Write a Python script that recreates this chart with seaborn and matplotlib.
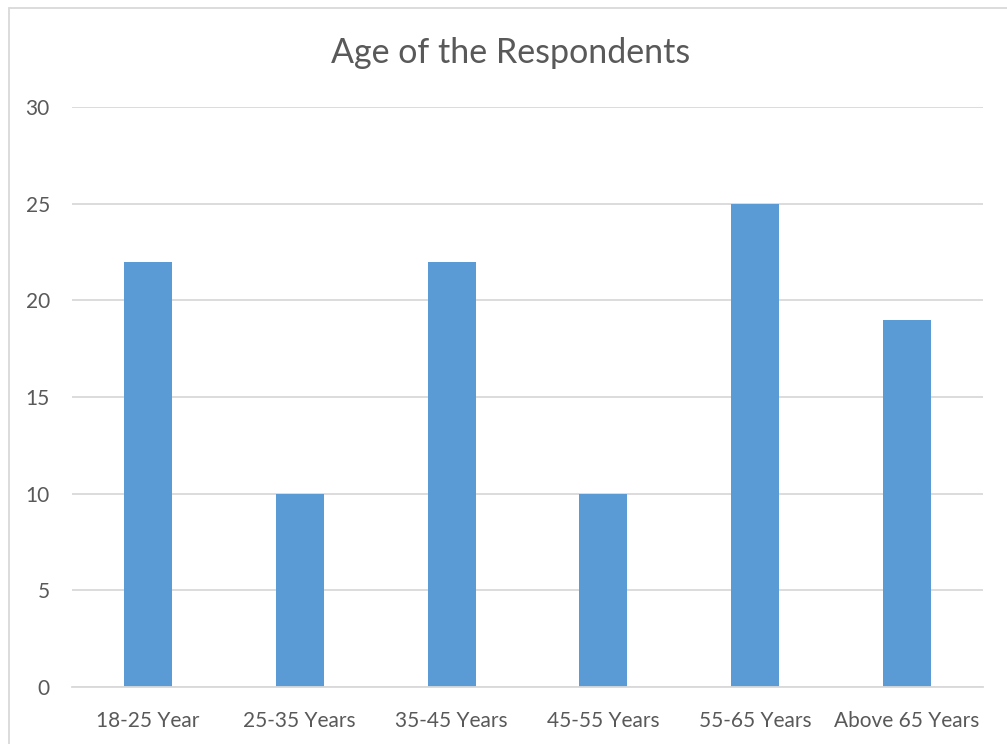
import matplotlib
matplotlib.use("Agg")
import matplotlib.pyplot as plt
import seaborn as sns
import pandas as pd
from matplotlib.lines import Line2D

categories = ["18-25 Year", "25-35 Years", "35-45 Years", "45-55 Years", "55-65 Years", "Above 65 Years"]
values = [22, 10, 22, 10, 25, 19]
yticks = [0, 5, 10, 15, 20, 25, 30]

sns.set_theme(style="white")
plt.rcParams['font.family'] = ['Lato', 'DejaVu Sans']

df = pd.DataFrame({"cat": categories, "val": values})

fig = plt.figure(figsize=(10.07, 7.44), dpi=100)
ax = fig.add_axes([72/1007, 1-687/744, 911/1007, 580/744])
sns.barplot(data=df, x="cat", y="val", color="#5B9BD5", width=0.316, ax=ax,
            saturation=1, linewidth=0)

ax.set_ylim(0, 30)
ax.set_xlim(-0.5, 5.5)
ax.set_yticks(yticks)
ax.set_yticklabels([str(t) for t in yticks])
ax.yaxis.grid(True, color="#D9D9D9", linewidth=1.3)
ax.set_axisbelow(True)
for s in ["top", "right", "left"]:
    ax.spines[s].set_visible(False)
ax.spines["bottom"].set_color("#D9D9D9")
ax.spines["bottom"].set_linewidth(1.3)
ax.set_xlabel("")
ax.set_ylabel("")
ax.tick_params(axis="both", length=0, labelsize=15, labelcolor="#595959")
ax.tick_params(axis="y", pad=16)
ax.tick_params(axis="x", pad=17)

fig.text(511/1007, 1-53/744, "Age of the Respondents", ha="center", va="center",
         fontsize=24.5, color="#595959")

# chart frame (left and top edges)
fig.add_artist(Line2D([9/1007, 9/1007], [0, 1-8/744], transform=fig.transFigure, color="#D9D9D9", linewidth=1.3))
fig.add_artist(Line2D([9/1007, 1], [1-8/744, 1-8/744], transform=fig.transFigure, color="#D9D9D9", linewidth=1.3))

fig.savefig("out.png", dpi=100)
